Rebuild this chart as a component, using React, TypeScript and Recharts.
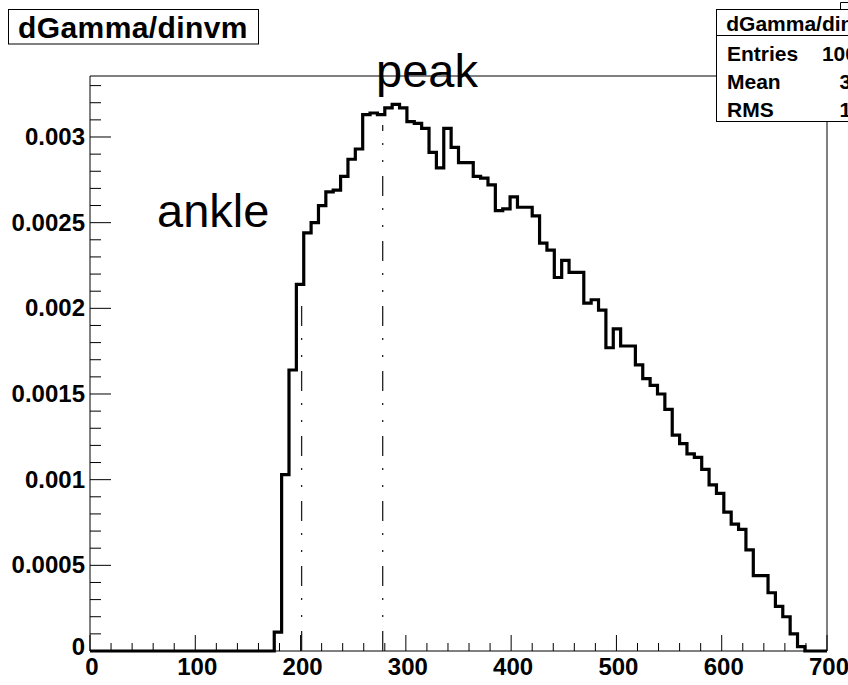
import { ComposedChart, Line, XAxis, YAxis, ReferenceLine, ReferenceArea } from "recharts";

// 100 bins of width 7 over [0, 700]
const binWidth = 7;
const binValues = [
  0, 0, 0, 0, 0, 0, 0, 0, 0, 0,
  0, 0, 0, 0, 0, 0, 0, 0, 0, 0,
  0, 0, 0, 0, 0, 0.00011, 0.00103, 0.00164, 0.00214, 0.00244,
  0.0025, 0.0026, 0.00268, 0.00269, 0.00277, 0.00287, 0.00293, 0.00313, 0.00314, 0.00313,
  0.00317, 0.00319, 0.00317, 0.00309, 0.00308, 0.00305, 0.00291, 0.00282, 0.00305, 0.00294,
  0.00285, 0.00285, 0.00277, 0.00276, 0.00272, 0.00257, 0.00258, 0.00265, 0.00259, 0.00259,
  0.00254, 0.00238, 0.00234, 0.00218, 0.00228, 0.00221, 0.00221, 0.00203, 0.00205, 0.00199,
  0.00177, 0.00188, 0.00178, 0.00178, 0.00167, 0.00159, 0.00155, 0.0015, 0.00141, 0.00126,
  0.00121, 0.00115, 0.00113, 0.00106, 0.00097, 0.00092, 0.00081, 0.00074, 0.00071, 0.00059,
  0.00044, 0.00044, 0.00034, 0.00026, 0.0002, 0.0001, 0.000025, 0, 0, 0,
];

const xTicks = [
  0, 20, 40, 60, 80, 100, 120, 140, 160, 180, 200, 220, 240, 260, 280, 300, 320, 340,
  360, 380, 400, 420, 440, 460, 480, 500, 520, 540, 560, 580, 600, 620, 640, 660, 680, 700,
];
const yTicks = [
  0, 0.0001, 0.0002, 0.0003, 0.0004, 0.0005, 0.0006, 0.0007, 0.0008, 0.0009,
  0.001, 0.0011, 0.0012, 0.0013, 0.0014, 0.0015, 0.0016, 0.0017, 0.0018, 0.0019,
  0.002, 0.0021, 0.0022, 0.0023, 0.0024, 0.0025, 0.0026, 0.0027, 0.0028, 0.0029,
  0.003, 0.0031, 0.0032, 0.0033,
];
const xMax = 700;
const yMax = 0.003356;

// dash-dot marker lines: x position and top value
const markerX = [201, 278];
const markerTop = [0.00208, 0.00307];

const statLabels = ["Entries", "Mean", "RMS"];
const statValues = ["100000", "383.2", "108.4"];

const data = binValues
  .map((v, i) => ({ x: i * binWidth, v }))
  .concat([{ x: xMax, v: binValues[binValues.length - 1] }]);

const font = "'Liberation Sans', Arial, Helvetica, sans-serif";

const fmtY = (v: number) => (v === 0 ? "0" : String(parseFloat(v.toFixed(4))));

/* eslint-disable @typescript-eslint/no-explicit-any */
function YTick({ x, y, payload }: any) {
  const val = payload.value;
  const major = Math.round(val * 10000) % 5 === 0;
  return (
    <g>
      <line x1={x} x2={x + (major ? 21 : 11)} y1={y} y2={y} stroke="#000" strokeWidth={1} />
      {major && (
        <text
          x={x - 5}
          y={val === 0 ? y + 4 : y + 8}
          textAnchor="end"
          fontFamily={font}
          fontWeight="bold"
          fontSize={24}
          fill="#000"
        >
          {fmtY(val)}
        </text>
      )}
    </g>
  );
}

function XTick({ x, y, payload }: any) {
  const val = payload.value;
  const major = val % 100 === 0;
  return (
    <g>
      <line x1={x} x2={x} y1={y} y2={y - (major ? 16 : 8)} stroke="#000" strokeWidth={1} />
      {major && (
        <text x={x + 2} y={y + 24} textAnchor="middle" fontFamily={font} fontWeight="bold" fontSize={24} fill="#000">
          {val}
        </text>
      )}
    </g>
  );
}
/* eslint-enable @typescript-eslint/no-explicit-any */

export default function App() {
  return (
    <div
      style={{
        position: "absolute",
        left: 0,
        top: 0,
        width: 848,
        height: 685,
        background: "#fff",
        overflow: "hidden",
      }}
    >
      <ComposedChart
        width={848}
        height={685}
        data={data}
        margin={{ top: 76, right: 21, bottom: 33, left: 89 }}
      >
        <XAxis
          dataKey="x"
          type="number"
          domain={[0, xMax]}
          ticks={xTicks}
          interval={0}
          height={1}
          tickSize={0}
          tickMargin={0}
          tickLine={false}
          axisLine={false}
          tick={(p: any) => <XTick {...p} />}
        />
        <YAxis
          type="number"
          domain={[0, yMax]}
          ticks={yTicks}
          interval={0}
          width={1}
          tickSize={0}
          tickMargin={0}
          tickLine={false}
          axisLine={false}
          tick={(p: any) => <YTick {...p} />}
        />
        <ReferenceArea x1={0} x2={xMax} y1={0} y2={yMax} fill="none" stroke="#000" strokeWidth={1} fillOpacity={0} />
        {markerX.map((mx, i) => (
          <ReferenceLine
            key={mx}
            segment={[
              { x: mx, y: 0 },
              { x: mx, y: markerTop[i] },
            ]}
            stroke="#222"
            strokeWidth={1.3}
            strokeDasharray="20 14 2 15 2 12"
          />
        ))}
        <Line
          type="stepAfter"
          dataKey="v"
          stroke="#000"
          strokeWidth={3.2}
          dot={false}
          activeDot={false}
          isAnimationActive={false}
        />
      </ComposedChart>

      <svg
        width={848}
        height={685}
        style={{ position: "absolute", left: 0, top: 0, pointerEvents: "none" }}
        fontFamily={font}
      >
        {/* title */}
        <rect x={8.5} y={9.5} width={250} height={34.5} fill="#fff" stroke="#000" />
        <text x={133} y={38} textAnchor="middle" fontSize={30} fontWeight="bold" letterSpacing={0.4}>
          dGamma/dinvm
        </text>

        {/* annotations */}
        <text x={376} y={87} fontSize={47}>peak</text>
        <text x={157} y={227} fontSize={47}>ankle</text>

        {/* stats box */}
        <path d="M840.5 10 V2.5 H848" fill="none" stroke="#000" />
        <rect x={716.5} y={9.5} width={178} height={112} fill="#fff" stroke="#000" />
        <line x1={716} x2={895} y1={35.5} y2={35.5} stroke="#000" />
        <text x={805} y={31} textAnchor="middle" fontSize={21} fontWeight="bold">
          dGamma/dinvm
        </text>
        {statLabels.map((l, i) => (
          <g key={l}>
            <text x={727} y={61 + i * 28} fontSize={21} fontWeight="bold">
              {l}
            </text>
            <text x={892} y={61 + i * 28} textAnchor="end" fontSize={21} fontWeight="bold">
              {statValues[i]}
            </text>
          </g>
        ))}
      </svg>
    </div>
  );
}
